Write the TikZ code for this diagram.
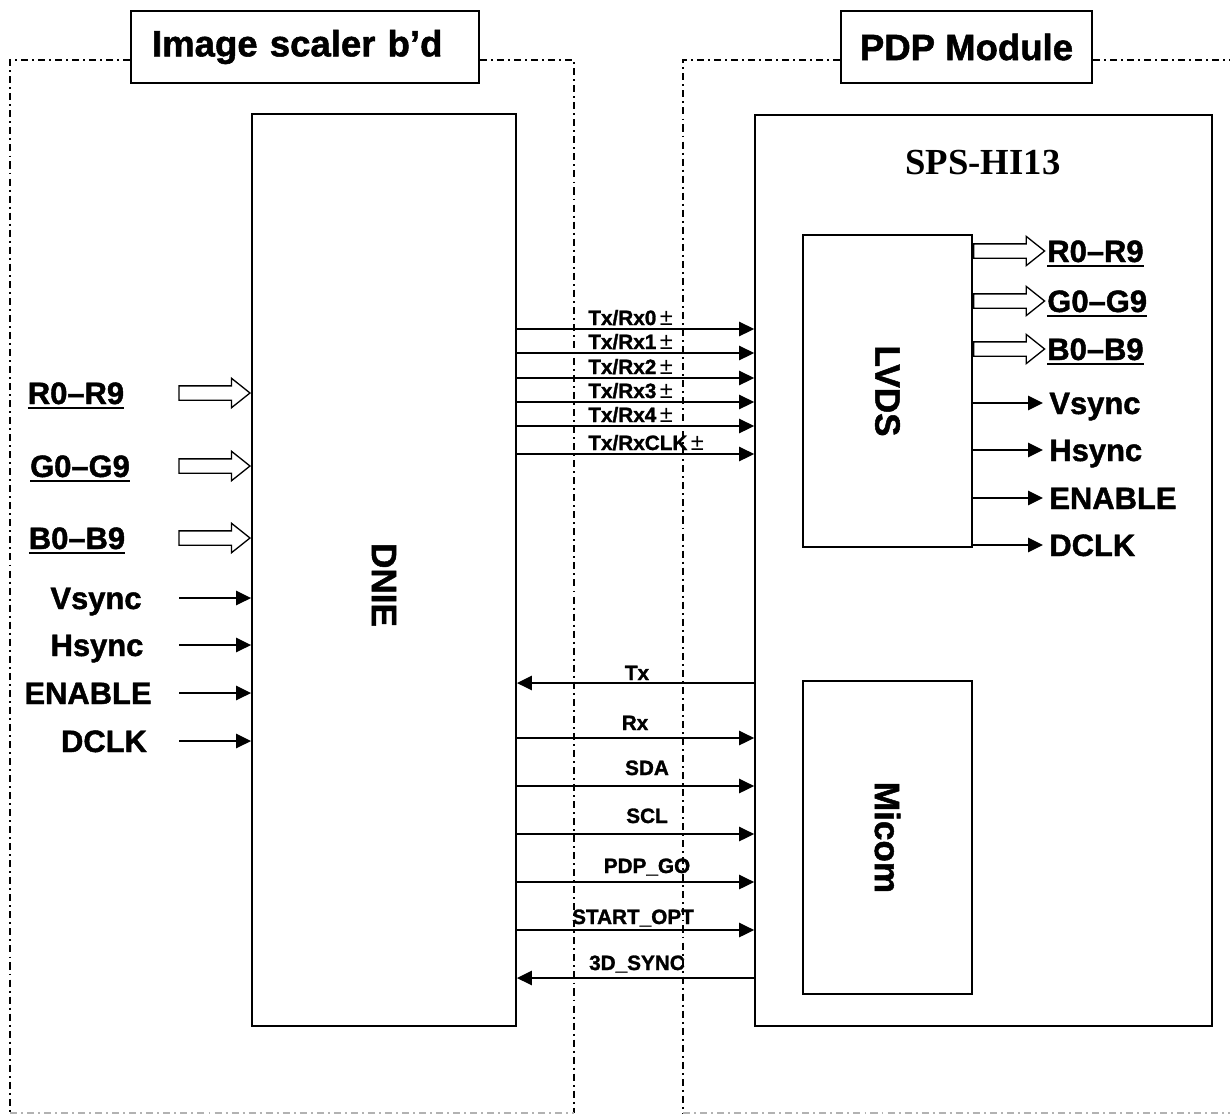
\documentclass[tikz,border=0pt]{standalone}
\usepackage{fontspec}
\setmainfont{Liberation Sans}
\newfontfamily\hvy[BoldFeatures={FakeBold=1.4}]{Liberation Sans}
\newfontfamily\spsfont{Liberation Serif}
\newsavebox{\busbox}
\newcommand{\busul}[1]{\sbox{\busbox}{#1}\rlap{\rule[-2.8pt]{\wd\busbox}{1.1pt}}\usebox{\busbox}}
\newcommand{\pmsign}{\,{\mdseries\fontsize{13.5}{14}\selectfont ±}}
\usetikzlibrary{arrows.meta,positioning,shapes.arrows,calc}

\begin{document}
\begin{tikzpicture}[x=0.02cm, y=-0.02cm,
  blk/.style={draw, line width=1.1pt, inner sep=0pt},
  ttl/.style={blk, font=\fontsize{20.8}{24}\selectfont\hvy\bfseries, minimum height=1.44cm},
  big/.style={font=\fontsize{20}{24}\selectfont\hvy\bfseries, rotate=-90, inner sep=0pt},
  lab/.style={font=\fontsize{17.6}{20}\selectfont\hvy\bfseries, inner sep=0pt},
  sml/.style={font=\fontsize{11.8}{14}\selectfont\hvy\bfseries, inner sep=0pt},
  sig/.style={-{Triangle[length=8.5pt,width=8.2pt]}, line width=0.85pt},
  sigb/.style={{Triangle[length=8.5pt,width=8.2pt]}-, line width=0.85pt},
  bus/.style={single arrow, draw, line width=0.75pt, fill=white, inner xsep=0pt,
              inner ysep=0.13cm, minimum height=1.42cm,
              single arrow head extend=0.15cm, single arrow tip angle=77},
  frm/.style={line width=0.8pt, dash pattern=on 4pt off 2.3pt on 1.1pt off 2.3pt}]

\useasboundingbox (0,0) rectangle (1230,1115);

% board titles
\node[ttl, text width=6.12cm, inner xsep=0.42cm, align=left] (ttlL) at (305,47) {Image scaler b’d};
\node[ttl, minimum width=5.02cm] (ttlR) at (966.5,47) {PDP Module};

% dash-dot board outlines
\draw[frm] (ttlL.west |- 0,60) -- (10,60) -- (10,1113);
\draw[frm] (ttlL.east |- 0,60) -- (574,60) -- (574,1113);
\draw[frm, black!30] (10,1113) -- (574,1113);
\draw[frm] (ttlR.west |- 0,60) -- (683,60) -- (683,1113);
\draw[frm] (ttlR.east |- 0,60) -- (1230,60);
\draw[frm, black!30] (683,1113) -- (1230,1113);

% blocks
\node[blk, minimum width=5.28cm, minimum height=18.24cm] (dnie) at (384,570) {};
\node[big] (dnielab) at (384,585) {DNIE};
\node[blk, minimum width=9.14cm, minimum height=18.22cm] (sps) at (983.5,570.5) {};
\node[font=\fontsize{20.9}{24}\selectfont\spsfont\bfseries] (spsname) at (983,163) {SPS-HI13};
\node[blk, minimum width=3.38cm, minimum height=6.24cm] (lvds) at (887.5,391) {};
\node[big] (lvdslab) at (lvds) {LVDS};
\node[blk, minimum width=3.38cm, minimum height=6.26cm] (micom) at (887.5,837.5) {};
\node[big] (micomlab) at (micom) {Micom};

% inputs of the scaler
\foreach \y/\nm/\x in {393/R/76,466/G/80,538/B/77} {
  \node[bus, anchor=tip] (in\nm) at (dnie.west |- 0,\y) {};
  \node[lab, anchor=base] (ilab\nm) at (\x,\y+11) {\busul{\nm0–\nm9}};
}
\foreach \y/\nm/\x in {598/Vsync/96,645/Hsync/97,693/ENABLE/88,741/DCLK/104} {
  \coordinate (src\nm) at (179,\y);
  \draw[sig] (src\nm) -- (dnie.west |- src\nm);
  \node[lab, anchor=base] (ilab\nm) at (\x,\y+11) {\nm};
}

% LVDS links
\foreach \y/\n in {329/0,353/1,378/2,402/3,426/4,454/CLK} {
  \draw[sig] (dnie.east |- 0,\y) -- (sps.west |- 0,\y);
  \node[sml, anchor=base west] (lnk\n) at (588,\y-4) {Tx/Rx\n\pmsign};
}

% control lines
\foreach \y/\t/\x/\st/\b in {683/Tx/637/sigb/680,738/Rx/635/sig/730,786/SDA/647/sig/775,
    834/SCL/647/sig/823,882/PDP\_GO/647/sig/873,930/START\_OPT/633/sig/924,978/3D\_SYNC/637/sigb/970} {
  \draw[\st] (dnie.east |- 0,\y) -- (sps.west |- 0,\y);
  \node[sml, anchor=base] at (\x,\b) {\t};
}

% LVDS outputs
\foreach \y/\nm in {251/R,301/G,349/B} {
  \node[bus, anchor=tail] (out\nm) at (lvds.east |- 0,\y) {};
  \node[lab, anchor=base west] (olab\nm) at (1047,\y+11) {\busul{\nm0–\nm9}};
}
\foreach \y/\nm in {403/Vsync,450/Hsync,498/ENABLE,545/DCLK} {
  \coordinate (dst\nm) at (1043,\y);
  \draw[sig] (lvds.east |- dst\nm) -- (dst\nm);
  \node[lab, anchor=base west] (olab\nm) at (1049,\y+11) {\nm};
}
\end{tikzpicture}
\end{document}
